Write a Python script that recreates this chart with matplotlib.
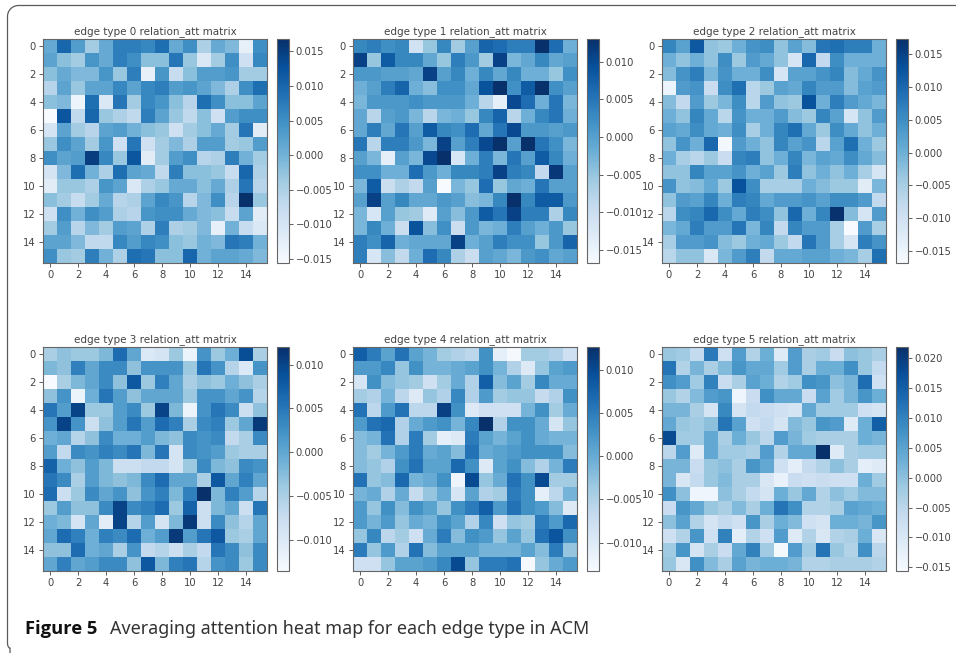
import matplotlib
matplotlib.use("Agg")
from matplotlib import pyplot as plt
from matplotlib.lines import Line2D
import numpy as np

# cell values in units of 1e-3
edge0 = [
    [1, 10, 3, -4, 1, 7, 7, 6, 9, 1, 5, -5, 1, -1, -13, 5],
    [2, -2, -4, 4, 1, 7, 5, -2, -2, 8, -3, -11, -4, 5, -9, 6],
    [-2, 1, -1, -1, 4, -3, 7, -13, 4, -8, -2, 3, 3, 4, -4, -4],
    [-6, 2, -3, 2, 2, 6, 2, 6, 7, 3, 4, 2, -1, -5, 5, 9],
    [-2, -1, -14, 9, -11, 8, -4, 6, 4, -2, -6, 9, 5, -2, -2, 2],
    [-16, 12, -7, 10, -3, -5, -7, 7, 2, -3, -7, -2, -9, 3, 5, 5],
    [-10, 2, -4, -6, 2, 3, 0, -2, -3, -9, -4, -2, 1, -4, 8, -12],
    [-3, 5, 2, -4, 4, -9, 8, -9, -4, -1, -5, 3, 3, -4, -3, 3],
    [5, 2, 3, 15, 6, -3, 12, -12, -4, 3, 5, -6, -5, 7, 0, -4],
    [-10, -1, 9, 0, -5, 9, 2, 1, -7, 7, -2, -2, -3, -8, 10, -5],
    [-12, -3, -3, -5, 4, 2, -11, -5, -3, 1, 1, -2, 1, -5, 8, -6],
    [-2, -4, -8, -4, 1, -6, -5, 2, 6, 4, -6, -1, 5, -6, 17, -3],
    [-9, 5, 0, 5, 3, -5, -6, 4, 5, 5, 1, -1, -2, -8, 2, -12],
    [-4, 3, -6, -1, -4, 3, 2, -5, 7, -5, -4, -1, -13, 0, -8, -11],
    [2, 2, -1, -7, -7, 6, 3, 6, 5, -2, -3, 0, -1, 8, 7, 0],
    [5, -3, -4, 7, 0, -5, 9, 8, -2, -2, 10, 0, 2, 2, 1, -1],
]
edge1 = [
    [3, 4, 2, 3, -11, -5, 3, -6, 0, 7, 6, 4, 4, 13, 6, -2],
    [11, -5, 8, 3, 3, -1, -5, 4, 1, -6, 11, -3, -1, 3, -1, 0],
    [1, 1, 0, 0, -1, 11, 0, 3, -2, 3, -1, 3, -2, -2, -5, 2],
    [-2, 0, 4, 7, -2, -4, 2, 2, -1, 9, 13, 2, 8, 13, 2, 0],
    [-3, 1, 1, 1, 2, 1, 1, 1, -2, -8, -14, 10, 6, -2, 5, -3],
    [-1, -8, 0, 1, -3, -8, -3, -2, -5, 3, 7, -8, -2, 3, 5, -2],
    [-1, 4, -1, 5, 0, 8, 3, 2, 6, -1, 5, 10, 1, 1, 0, 1],
    [5, -8, 4, 4, 1, -3, 11, 0, 4, 10, 13, 0, 13, 5, 2, -3],
    [0, -3, -14, 0, -3, 10, 13, -12, -2, 4, -3, 5, 0, 8, 3, -2],
    [2, 2, -2, -2, 6, 1, -2, 3, 3, 4, 11, 4, 3, -9, 12, 0],
    [-3, 8, -10, -7, -9, 0, -17, -3, -5, 6, -5, -1, -2, 5, 0, 0],
    [0, 11, 0, 3, -1, -1, 1, 0, -4, -3, 3, 13, 3, 8, 8, 1],
    [-3, -12, 0, -5, -6, -13, 0, -4, 1, 8, 5, 11, 4, 4, -7, 3],
    [-3, 3, -2, -10, 9, -4, 2, -10, 1, -3, -2, 4, 0, -2, 1, -5],
    [4, 2, 7, -2, -1, -1, -1, 11, -2, 0, 4, 2, 2, -5, 1, 7],
    [4, -12, -4, -9, -2, 6, 3, -7, -10, 0, -1, -3, 1, 2, -1, 0],
]
edge2 = [
    [6, 2, 12, -3, -4, 0, 4, 5, -3, 2, -2, 8, 9, 7, 7, 0],
    [0, -3, 0, -3, 5, -4, 3, 1, -3, -11, 10, -8, 5, 0, 0, 0],
    [-2, 4, 7, -1, 4, 0, 0, 5, -11, 2, 2, 4, 6, -2, 1, 4],
    [-15, 3, 4, -9, 5, 9, -7, -4, 2, 1, 6, 3, 3, -2, 2, 3],
    [-2, -8, 3, -4, -1, 5, -7, 3, -3, -4, 13, 0, 7, 3, 1, -1],
    [0, -3, 6, 1, -7, 4, 0, 0, 3, -2, -4, 6, 2, -11, -3, 3],
    [2, 1, 5, 1, 0, 5, -5, 0, 6, 9, 1, -4, 5, 1, -3, 0],
    [-3, 4, 0, 10, -16, 3, 0, -3, 6, 2, 4, -7, 2, 9, 0, -4],
    [0, -5, -7, -4, -9, 6, 7, -3, 0, 6, -1, 2, 1, 5, 1, -2],
    [-3, -3, 6, 2, 2, 4, 0, 2, -4, 7, -3, 0, -3, 0, -5, -11],
    [4, -3, -2, 1, -4, 13, 5, -5, -5, -5, 0, -2, -4, -4, -13, -1],
    [-3, 3, 2, 6, 0, 7, 6, 1, 3, 3, 4, 2, 5, 5, 3, -8],
    [-7, 5, 6, 10, 5, 1, 7, 5, -3, 10, 0, 6, 17, -2, -11, 3],
    [-1, 1, 7, 3, 3, 8, -1, 6, -8, 6, 3, 3, -5, -17, 3, -5],
    [-5, 3, 3, 4, -2, -4, 0, 1, -4, -8, 8, 3, -5, -11, 7, 4],
    [-7, -3, -3, -12, -1, 3, 7, -8, 1, 1, 2, 2, 0, -1, -5, 9],
]
edge3 = [
    [-5, -3, -4, -4, -2, 6, 0, -10, -9, -4, -12, 2, -4, -1, 9, -5],
    [-2, -3, 4, 0, 3, 3, -3, 2, 2, 2, -4, 5, 2, -6, -10, 2],
    [-14, -5, -2, 0, 3, -3, 8, -4, 4, 0, -5, -3, -4, -1, -3, -5],
    [-3, 2, -12, -1, 5, 1, -3, 0, 0, 0, -4, 2, 2, 0, 2, -6],
    [5, 1, 10, -4, -4, 1, 3, -4, 10, -2, -12, 2, 5, 3, -8, -3],
    [2, 10, 2, -8, -3, 1, 5, 1, 6, 4, -5, 3, 4, -4, 0, 11],
    [-1, 0, -6, -3, 3, -1, -1, 1, -2, -3, 3, 2, 3, -7, -5, 3],
    [1, -7, 3, 2, 4, 3, 5, -2, 5, -9, 3, 2, 1, -4, -5, -5],
    [7, -1, -3, 1, -2, -8, -8, -7, -7, -9, -4, 3, -2, -3, 3, 2],
    [5, 3, -5, 1, -2, -3, -2, 3, 6, 0, 0, -5, 8, 0, 4, 0],
    [6, -8, -4, 3, 0, 2, -3, 2, 4, -2, 4, 12, -2, 4, 1, -6],
    [-4, 1, -3, -3, 3, 10, 3, 4, 6, -4, 7, -8, -2, 0, -8, 5],
    [-1, -2, -9, 0, -11, 10, -6, 1, -9, -2, 11, -8, 3, -3, -6, 0],
    [0, 6, 4, -1, 4, 3, 6, -1, 1, 11, 1, 5, 8, -4, -5, 0],
    [-3, -3, 6, -1, 0, -5, 2, -7, -6, -8, -5, -7, 5, 3, -3, 3],
    [0, 4, 0, 1, 3, 3, -3, 8, -2, 4, 5, -6, 2, 3, -4, 3],
]
edge4 = [
    [8, 5, 1, 6, 1, -1, -4, -5, -6, 3, -11, -13, -4, -4, -5, -8],
    [2, 2, 4, -3, 3, -1, -1, 0, 1, 3, -1, -5, -10, -3, 1, 2],
    [-9, 3, -2, -3, -4, -8, -4, 0, -5, 8, -2, 1, -4, 4, 0, 0],
    [-4, -5, -1, -6, -10, -3, -5, 4, -5, 2, -4, -3, -3, -7, -5, 3],
    [6, -6, 2, 6, -6, -6, 11, 3, -10, -8, -8, -8, -1, 3, -4, 0],
    [2, 6, 7, -5, 0, 2, 3, -1, 4, 13, -5, 3, 3, 0, -9, -3],
    [-2, -1, 6, -5, 5, -4, -11, -10, 5, 1, -1, 1, 3, 0, -1, -1],
    [-2, -4, -1, 2, 5, 0, 1, -2, 6, 0, 1, 2, 3, 3, 3, -2],
    [-2, -3, -5, 3, 6, 1, 1, 7, 3, -10, 1, 3, -2, -5, -1, 5],
    [6, -3, -2, 7, -1, 0, 3, -12, 10, -3, 0, 6, 3, 10, -4, -4],
    [-1, 0, -5, 0, -7, -3, 0, -9, 1, -5, -4, 5, 3, -11, -6, -1],
    [2, -3, 3, -2, 3, 1, -3, 3, 5, 8, 2, 6, 3, 2, -2, -10],
    [2, -1, 2, -3, 0, -1, 3, 1, -5, 4, -8, -3, -4, 5, 2, 7],
    [-3, 4, -6, -4, -8, 0, 5, -2, 3, 2, -3, 1, -3, 6, 9, 3],
    [5, -3, 2, -5, 6, -2, 1, 1, 1, -1, -1, -1, 1, -2, 5, -3],
    [-8, -8, -3, 1, 1, 2, 4, 10, -3, 5, 5, 6, -13, -3, 0, 2],
]
edge5 = [
    [-1, -2, -6, 11, -8, 6, -4, 3, -11, 6, -3, -2, -7, 0, -1, -3],
    [12, -4, 2, -3, 1, 7, 4, 4, -2, 6, -3, 3, 3, 8, -1, -6],
    [8, 6, -2, 10, -7, -3, 5, 3, -4, -2, 8, 7, 0, 2, 13, -8],
    [-1, -4, 1, 6, 7, -14, -7, 8, 4, 4, -7, 5, -2, 2, 7, 3],
    [2, 2, -3, -9, 9, -9, -6, -7, -8, -9, 4, -2, -2, -2, -8, -9],
    [4, -1, -2, 0, 12, 5, -8, -6, -9, 1, -1, 7, 6, -11, 3, 15],
    [18, -2, -2, 4, -3, 3, -1, -5, 6, 2, -2, -3, -3, -3, 3, 2],
    [-5, 6, -11, 4, -2, -2, -3, 6, -4, 4, 4, 22, -11, -3, -2, -2],
    [2, 2, -7, -1, 0, -3, 7, 4, -8, -12, -6, -4, 0, -3, -12, -11],
    [2, -10, -6, -1, 1, -3, -3, -10, -13, -7, -8, -7, -8, -8, 3, -2],
    [8, 0, -14, -14, 0, -3, -6, -9, 3, -1, 4, -4, 0, -2, 1, 1],
    [-7, 7, 4, -1, -3, 1, -3, 3, 12, 8, -4, -4, -3, 5, 4, 3],
    [0, 5, -4, -9, -6, -8, 7, -3, 3, 1, -8, -9, 3, 3, 2, 7],
    [-8, -4, 7, -8, 10, -12, -4, -8, 6, -11, -4, -10, -4, -3, 3, -10],
    [-2, 7, -9, -3, -7, 4, 10, -2, -15, 6, -2, 12, -1, -4, 8, -5],
    [-1, -10, 8, 1, -3, 5, 2, 3, 3, 2, -4, -4, -3, -3, -3, -4],
]
matrices = [edge0, edge1, edge2, edge3, edge4, edge5]
vmins = [-15.6, -16.7, -16.8, -13.6, -13.3, -15.6]
vmaxs = [16.8, 13.0, 17.3, 12.0, 12.7, 21.8]
cbar_ticks = [
    [-15, -10, -5, 0, 5, 10, 15],
    [-15, -10, -5, 0, 5, 10],
    [-15, -10, -5, 0, 5, 10, 15],
    [-10, -5, 0, 5, 10],
    [-10, -5, 0, 5, 10],
    [-15, -10, -5, 0, 5, 10, 15, 20],
]
caption_bold = "Figure 5"
caption_rest = "Averaging attention heat map for each edge type in ACM"

W, H = 956, 653
ax_lefts = [43, 353, 662]
ax_tops = [39, 347]
ax_size = 224
text_col = "#444444"

plt.rcParams["font.size"] = 7.2
plt.rcParams["text.color"] = text_col
plt.rcParams["axes.edgecolor"] = "#666666"
plt.rcParams["xtick.color"] = text_col
plt.rcParams["ytick.color"] = text_col

fig = plt.figure(figsize=(W / 100, H / 100), dpi=100)


def box(left, top, w, h):
    return [left / W, 1 - (top + h) / H, w / W, h / H]


for i, m in enumerate(matrices):
    left = ax_lefts[i % 3]
    top = ax_tops[i // 3]
    ax = fig.add_axes(box(left, top, ax_size, ax_size))
    arr = np.array(m) * 1e-3
    im = ax.imshow(arr, cmap="Blues", vmin=vmins[i] * 1e-3, vmax=vmaxs[i] * 1e-3, aspect="auto")
    ax.set_title(f"edge type {i} relation_att matrix", fontsize=7.45, pad=3.5)
    ax.set_xticks(range(0, 16, 2))
    ax.set_yticks(range(0, 16, 2))
    ax.tick_params(length=2.8, width=0.6, pad=2.5)

    cax = fig.add_axes(box(left + 234, top, 11.5, ax_size))
    cb = fig.colorbar(im, cax=cax)
    cb.set_ticks(np.array(cbar_ticks[i]) * 1e-3,
                 labels=[f"{t / 1000:.3f}".replace("-", "\u2212") for t in cbar_ticks[i]])
    cb.ax.tick_params(length=2.8, width=0.6, pad=2.5)

# rounded page frame, top-left corner and left side
frame_col = "#5a5a5a"
r = 11
t = np.linspace(0, np.pi / 2, 20)
xs = [10] + list(7.5 + 2.5 * (1 - np.sin(t))) + list(7.5 + r - r * np.cos(t)) + [956]
ys = [653] + list(648 - 5 + 5 * np.cos(t)) + list(5.5 + r - r * np.sin(t)) + [5.5]
fig.add_artist(Line2D(np.array(xs) / W, 1 - np.array(ys) / H, color=frame_col, lw=0.9))

fig.text(25 / W, 1 - 629 / H, caption_bold, fontsize=13.2, fontweight="bold",
         family="Open Sans", color="#111111", va="center")
fig.text(110 / W, 1 - 629 / H, caption_rest, fontsize=12.9, family="Noto Sans",
         color="#333333", va="center")

fig.savefig("out.png", dpi=100)
